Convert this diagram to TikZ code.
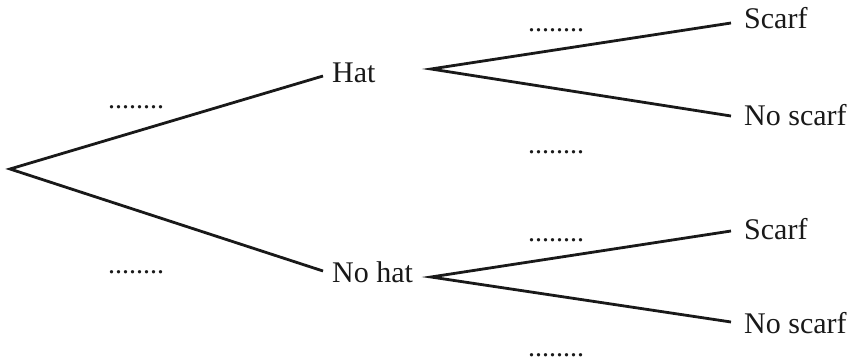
\documentclass[tikz,border=0pt]{standalone}
\usepackage{fontspec}
\setmainfont{Liberation Serif}
\begin{document}
\begin{tikzpicture}[x=1pt,y=-1pt,
  branch/.style={line width=2.8pt, line join=miter, black!90},
  lbl/.style={anchor=base west, inner sep=0pt, font=\fontsize{30}{32}\selectfont, text=black!90},
  prob/.style={anchor=base west, inner sep=0pt, font=\fontsize{28}{30}\selectfont, text=black!90}]
\useasboundingbox (0,0) rectangle (848,361);
% junction points
\coordinate (root) at (10,169);
\coordinate (hatin) at (323,76);
\coordinate (nohatin) at (323,271);
\coordinate (hatout) at (431,69);
\coordinate (nohatout) at (431,277);
\coordinate (s1in) at (731,23);
\coordinate (n1in) at (731,116);
\coordinate (s2in) at (731,231);
\coordinate (n2in) at (731,322);
% labels
\node[lbl] (hat) at (332,82) {Hat};
\node[lbl] (nohat) at (332,282) {No hat};
\node[lbl] (scarf1) at (744,29) {Scarf};
\node[lbl] (noscarf1) at (744,125) {No scarf};
\node[lbl] (scarf2) at (744,239) {Scarf};
\node[lbl] (noscarf2) at (744,333) {No scarf};
% probability blanks
\node[prob] (p1) at (108,108) {........};
\node[prob] (p2) at (108,273) {........};
\node[prob] (p3) at (528,32) {........};
\node[prob] (p4) at (528,153) {........};
\node[prob] (p5) at (528,241) {........};
\node[prob] (p6) at (528,356) {........};
% branches
\draw[branch] (hatin) -- (root) -- (nohatin);
\draw[branch] (s1in) -- (hatout) -- (n1in);
\draw[branch] (s2in) -- (nohatout) -- (n2in);
\end{tikzpicture}
\end{document}
